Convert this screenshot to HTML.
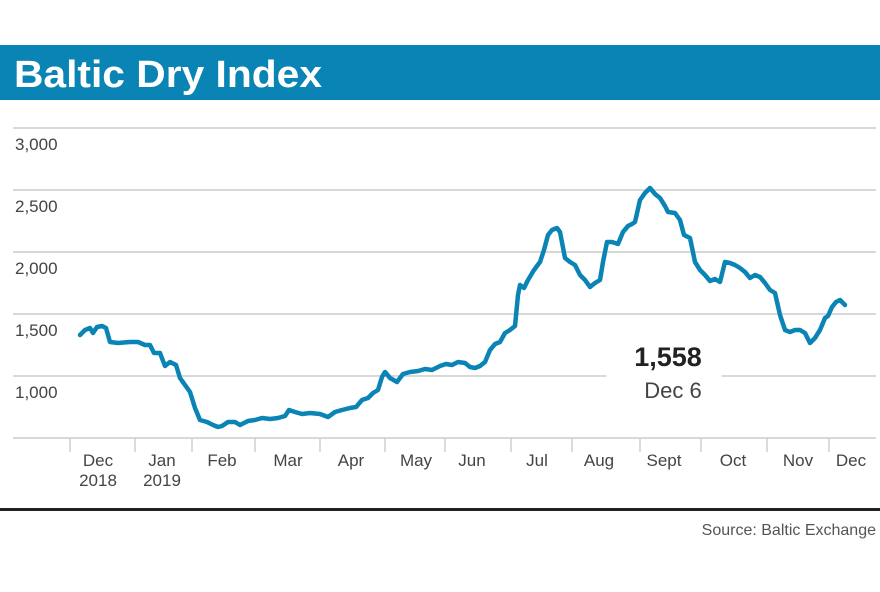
<!DOCTYPE html>
<html><head><style>
body{margin:0;background:#fff;width:880px;height:587px;overflow:hidden;font-family:"Liberation Sans",sans-serif}
</style></head><body>
<svg width="880" height="587" xmlns="http://www.w3.org/2000/svg" font-family="Liberation Sans, sans-serif">
<rect x="0" y="45" width="880" height="55" fill="#0a84b4"/>
<text x="14" y="87" font-size="38" font-weight="bold" fill="#fff" textLength="308" lengthAdjust="spacingAndGlyphs">Baltic Dry Index</text>
<g stroke="#d8d8d8" stroke-width="2">
<line x1="13" y1="128" x2="876" y2="128"/>
<line x1="13" y1="190" x2="876" y2="190"/>
<line x1="13" y1="252" x2="876" y2="252"/>
<line x1="13" y1="314" x2="876" y2="314"/>
<line x1="13" y1="376" x2="606" y2="376"/>
<line x1="722" y1="376" x2="876" y2="376"/>
<line x1="13" y1="438" x2="876" y2="438"/>
</g>
<g stroke="#cfcfcf" stroke-width="1.5">
<line x1="70" y1="438" x2="70" y2="452"/><line x1="135" y1="438" x2="135" y2="452"/>
<line x1="192" y1="438" x2="192" y2="452"/><line x1="255" y1="438" x2="255" y2="452"/>
<line x1="320" y1="438" x2="320" y2="452"/><line x1="385" y1="438" x2="385" y2="452"/>
<line x1="445" y1="438" x2="445" y2="452"/><line x1="511" y1="438" x2="511" y2="452"/>
<line x1="572" y1="438" x2="572" y2="452"/><line x1="640" y1="438" x2="640" y2="452"/>
<line x1="701" y1="438" x2="701" y2="452"/><line x1="767" y1="438" x2="767" y2="452"/>
<line x1="829" y1="438" x2="829" y2="452"/>
</g>
<g font-size="17" fill="#444">
<text x="15" y="150">3,000</text><text x="15" y="212">2,500</text>
<text x="15" y="274">2,000</text><text x="15" y="336">1,500</text>
<text x="15" y="398">1,000</text>
</g>
<g font-size="17" fill="#444" text-anchor="middle">
<text x="98" y="466">Dec</text><text x="98" y="486">2018</text>
<text x="162" y="466">Jan</text><text x="162" y="486">2019</text>
<text x="222" y="466">Feb</text><text x="288" y="466">Mar</text>
<text x="351" y="466">Apr</text><text x="416" y="466">May</text>
<text x="472" y="466">Jun</text><text x="537" y="466">Jul</text>
<text x="599" y="466">Aug</text><text x="664" y="466">Sept</text>
<text x="733" y="466">Oct</text><text x="798" y="466">Nov</text>
<text x="851" y="466">Dec</text>
</g>
<polyline fill="none" stroke="#0a84b4" stroke-width="4.5" stroke-linejoin="round" stroke-linecap="round" points="80,335 85,330 90,328 93,333 97,327 102,326 106,328 110,342 118,343 130,342 138,342 145,345 150,345 154,353 160,353 165,366 170,362 176,365 180,378 185,385 190,392 195,408 200,420 207,422 213,425 218,427 222,426 228,422 235,422 240,425 248,421 255,420 262,418 270,419 278,418 285,416 289,410 295,412 302,414 310,413 320,414 328,417 335,412 342,410 350,408 356,407 362,400 368,398 373,393 378,390 382,377 385,372 390,378 397,382 403,374 410,372 418,371 425,369 432,370 440,366 446,364 452,365 458,362 465,363 470,367 475,368 480,366 485,362 490,350 495,344 500,342 505,333 510,330 515,326 518,295 520,285 524,288 528,280 534,270 540,262 544,250 548,235 552,230 557,228 560,232 565,258 570,262 575,265 580,275 585,280 590,287 595,283 600,280 603,262 607,242 612,242 618,244 623,232 628,226 632,224 635,222 640,200 645,193 650,188 655,194 660,198 665,206 668,212 675,213 680,220 684,235 690,238 695,262 700,270 705,275 710,281 715,279 720,282 725,262 730,263 735,265 740,268 745,272 750,278 755,275 760,277 765,283 770,290 775,293 780,315 785,330 790,332 795,330 800,330 805,333 810,343 815,338 820,330 825,318 828,316 832,307 836,302 840,300 845,305"/>
<text x="668" y="366" font-size="27" font-weight="bold" fill="#222" text-anchor="middle">1,558</text>
<text x="673" y="398" font-size="22" fill="#444" text-anchor="middle">Dec 6</text>
<rect x="0" y="508" width="880" height="3" fill="#222"/>
<text x="876" y="535" font-size="16" fill="#555" text-anchor="end">Source: Baltic Exchange</text>
</svg>
</body></html>
